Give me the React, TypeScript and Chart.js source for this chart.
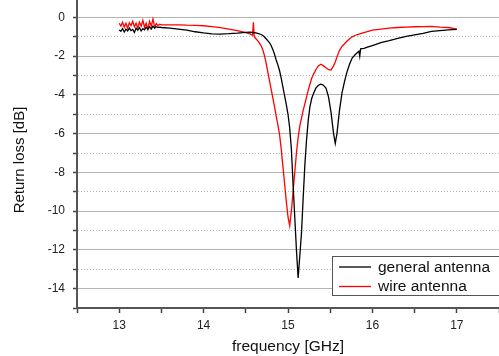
import React, { useEffect, useRef } from "react";
import { Chart, registerables } from "chart.js";

Chart.register(...registerables);

// Frequency samples [GHz]
const freqGHz = [
  13.0, 13.02, 13.04, 13.06, 13.08, 13.1, 13.12, 13.14, 13.16, 13.18, 13.2, 13.22, 13.24, 13.26, 13.28, 13.3,
  13.32, 13.34, 13.36, 13.38, 13.4, 13.42, 13.44, 13.46, 13.48, 13.5,
  13.6, 13.7, 13.8, 13.9, 14.0, 14.1, 14.2, 14.3, 14.4, 14.5, 14.55, 14.58, 14.59, 14.6, 14.62, 14.65, 14.68,
  14.7, 14.72, 14.74, 14.76, 14.78, 14.8, 14.82, 14.84, 14.86, 14.88, 14.9, 14.92, 14.94, 14.96, 14.98,
  15.0, 15.02, 15.04, 15.06, 15.08, 15.1, 15.12, 15.14, 15.16, 15.18, 15.2, 15.22, 15.24, 15.26, 15.28,
  15.3, 15.33, 15.36, 15.39, 15.42, 15.45, 15.48, 15.51, 15.54, 15.56, 15.58, 15.61, 15.64, 15.67, 15.7,
  15.73, 15.76, 15.8, 15.84, 15.85, 15.86, 15.9, 15.95, 16.0, 16.1, 16.2, 16.3, 16.4, 16.5, 16.6, 16.7,
  16.8, 16.9, 17.0,
];

// Return loss [dB]
const generalAntenna = [
  -0.65, -0.72, -0.58, -0.75, -0.6, -0.7, -0.55, -0.68, -0.62, -0.78, -0.55, -0.66, -0.52, -0.7, -0.58, -0.64,
  -0.5, -0.62, -0.48, -0.6, -0.45, -0.55, -0.48, -0.52, -0.5, -0.52,
  -0.55, -0.6, -0.66, -0.74, -0.8, -0.85, -0.86, -0.84, -0.81, -0.77, -0.76, -0.77, -0.78, -0.78, -0.8, -0.84, -0.88,
  -0.93, -1.0, -1.1, -1.2, -1.3, -1.45, -1.65, -1.9, -2.2, -2.45, -2.75, -3.15, -3.6, -4.05, -4.5,
  -5.0, -5.7, -6.8, -8.6, -10.3, -12.0, -13.45, -12.3, -11.1, -9.3, -7.6, -6.3, -5.3, -4.6, -4.2,
  -3.95, -3.65, -3.5, -3.45, -3.5, -3.65, -4.1, -4.9, -6.0, -6.5, -6.0, -4.8, -3.9, -3.3, -2.8,
  -2.4, -2.1, -1.9, -1.75, -2.0, -1.62, -1.6, -1.52, -1.45, -1.3, -1.2, -1.08, -0.98, -0.9, -0.82, -0.72,
  -0.68, -0.64, -0.62,
];

const wireAntenna = [
  -0.3, -0.45, -0.25, -0.5, -0.3, -0.55, -0.28, -0.42, -0.2, -0.48, -0.3, -0.55, -0.25, -0.45, -0.15, -0.5,
  -0.3, -0.6, -0.2, -0.45, -0.08, -0.5, -0.32, -0.42, -0.35, -0.38,
  -0.38, -0.38, -0.4, -0.41, -0.43, -0.47, -0.53, -0.6, -0.68, -0.78, -0.85, -0.92, -0.25, -1.0, -1.1, -1.25, -1.45,
  -1.65, -1.95, -2.35, -2.8, -3.25, -3.7, -4.15, -4.6, -5.1, -5.55, -6.05, -6.8, -7.7, -8.6, -9.5,
  -10.3, -10.75, -10.0, -9.0, -8.0, -7.0, -6.2, -5.6, -5.2, -4.8, -4.45, -4.1, -3.75, -3.45, -3.15,
  -2.95, -2.7, -2.5, -2.42, -2.5, -2.6, -2.7, -2.72, -2.5, -2.3, -2.05, -1.7, -1.5, -1.36, -1.22,
  -1.1, -1.0, -0.92, -0.86, -0.85, -0.83, -0.78, -0.72, -0.66, -0.6, -0.55, -0.52, -0.5, -0.48, -0.47, -0.46,
  -0.5, -0.52, -0.6,
];

const seriesLabels = ["general antenna", "wire antenna"];
const xLabelTicks = [13, 14, 15, 16, 17];
const yLabelTicks = [0, -2, -4, -6, -8, -10, -12, -14];
const yTitle = "Return loss [dB]";
const xTitle = "frequency [GHz]";

const FONT = "Arial, 'Liberation Sans', sans-serif";

const legendPlugin = {
  id: "insideLegend",
  afterDraw(chart: any) {
    const { ctx } = chart;
    const x0 = 332.5;
    const y0 = 256.5;
    const w = 200;
    const h = 39;
    ctx.save();
    ctx.fillStyle = "#ffffff";
    ctx.fillRect(x0, y0, w, h);
    ctx.strokeStyle = "#555555";
    ctx.lineWidth = 1;
    ctx.strokeRect(x0, y0, w, h);
    chart.data.datasets.forEach((ds: any, i: number) => {
      const y = 267 + i * 19.5;
      ctx.strokeStyle = ds.borderColor;
      ctx.lineWidth = 1.3;
      ctx.beginPath();
      ctx.moveTo(339, y);
      ctx.lineTo(371, y);
      ctx.stroke();
      ctx.fillStyle = "#111111";
      ctx.font = `15.5px ${FONT}`;
      ctx.textBaseline = "middle";
      ctx.textAlign = "left";
      ctx.fillText(ds.label, 378, y + 0.5);
    });
    ctx.restore();
  },
};

const yTitlePlugin = {
  id: "yTitle",
  afterDraw(chart: any) {
    const { ctx } = chart;
    ctx.save();
    ctx.translate(20, 160);
    ctx.rotate(-Math.PI / 2);
    ctx.fillStyle = "#111111";
    ctx.font = `15px ${FONT}`;
    ctx.textAlign = "center";
    ctx.textBaseline = "middle";
    ctx.fillText(yTitle, 0, 0);
    ctx.restore();
  },
};

export default function App() {
  const canvasRef = useRef<HTMLCanvasElement | null>(null);

  useEffect(() => {
    if (!canvasRef.current) return;
    const mk = (vals: number[]) => freqGHz.map((f, i) => ({ x: f, y: vals[i] }));
    const chart = new Chart(canvasRef.current, {
      type: "line",
      data: {
        datasets: [
          {
            label: seriesLabels[0],
            data: mk(generalAntenna),
            borderColor: "#000000",
            borderWidth: 1.3,
            pointRadius: 0,
            tension: 0,
          },
          {
            label: seriesLabels[1],
            data: mk(wireAntenna),
            borderColor: "#ff0000",
            borderWidth: 1.3,
            pointRadius: 0,
            tension: 0,
          },
        ],
      },
      options: {
        animation: false,
        responsive: false,
        devicePixelRatio: 1,
        layout: { padding: 0 },
        plugins: {
          legend: { display: false },
          tooltip: { enabled: false },
        },
        scales: {
          x: {
            type: "linear",
            min: 12.5,
            max: 17.5,
            afterFit: (s: any) => {
              s.height = 48;
              s.paddingLeft = 0;
              s.paddingRight = 0;
            },
            ticks: {
              stepSize: 0.5,
              autoSkip: false,
              maxRotation: 0,
              padding: 5,
              color: "#222222",
              font: { family: FONT, size: 12 },
              callback: (v: any) => (xLabelTicks.includes(Number(v)) ? String(v) : ""),
            },
            grid: {
              drawOnChartArea: false,
              drawTicks: true,
              tickLength: 5,
              tickColor: "#444444",
              tickWidth: 1.5,
            },
            border: { display: true, color: "#555555", width: 2 },
            title: {
              display: true,
              text: xTitle,
              color: "#111111",
              font: { family: FONT, size: 15.5 },
              padding: { top: 0, bottom: 0 },
            },
          },
          y: {
            type: "linear",
            min: -15,
            max: 0.9,
            afterFit: (s: any) => {
              s.width = 77;
              s.paddingTop = 0;
              s.paddingBottom = 0;
            },
            afterBuildTicks: (s: any) => {
              s.ticks = s.ticks.filter((t: any) => Number.isInteger(t.value));
            },
            ticks: {
              stepSize: 1,
              autoSkip: false,
              padding: 8,
              color: "#222222",
              font: { family: FONT, size: 12 },
              callback: (v: any) => (yLabelTicks.includes(Number(v)) ? String(v) : ""),
            },
            grid: {
              drawTicks: true,
              tickLength: 4,
              tickColor: "#444444",
              tickWidth: 1.5,
              lineWidth: 1,
              color: (c: any) => {
                const v = c.tick ? c.tick.value : 0;
                if (v === -15) return "rgba(0,0,0,0)";
                return Math.abs(v) % 2 === 0 ? "#b4b4b4" : "#b8b8b8";
              },
            },
            border: {
              display: true,
              color: "#555555",
              width: 2,
              dash: (c: any) => {
                const v = c && c.tick ? c.tick.value : 0;
                return Math.abs(v) % 2 === 0 ? [] : [1, 2];
              },
            },
            title: { display: false },
          },
        },
      },
      plugins: [legendPlugin, yTitlePlugin],
    } as any);
    return () => chart.destroy();
  }, []);

  return (
    <div style={{ position: "absolute", left: 0, top: 0, width: 499, height: 356, background: "#fff" }}>
      <canvas ref={canvasRef} width={499} height={356} />
    </div>
  );
}
